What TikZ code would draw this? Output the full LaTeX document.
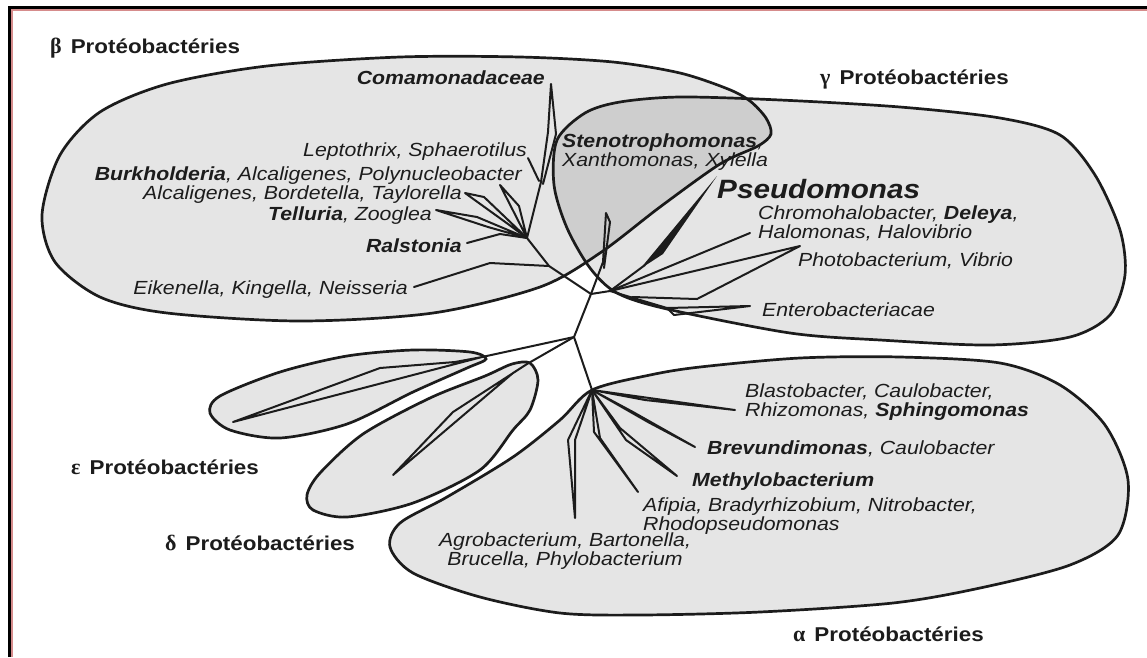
\documentclass[tikz,border=0pt]{standalone}
\usepackage{fontspec}
\setmainfont{Liberation Sans}
\newfontfamily\taxfont[FakeStretch=1.12]{Liberation Sans}
\newfontfamily\greekfont{Liberation Serif}
\usepackage{tikz}
\definecolor{inkline}{RGB}{28,28,28}
\definecolor{framepink}{RGB}{214,140,140}
\tikzset{
  clade/.style={draw=inkline,line width=2.7pt,fill=black,fill opacity=0.1},
  branch/.style={draw=inkline,line width=2pt,line join=round,line cap=round},
  taxon/.style={inner sep=0pt,text=inkline,
    font=\taxfont\fontsize{19}{19}\selectfont\itshape},
  bigtaxon/.style={taxon,font=\taxfont\fontsize{26.5}{28}\selectfont\bfseries\itshape},
  grouplabel/.style={inner sep=0pt,anchor=north west,text=inkline,
    font=\taxfont\fontsize{20}{22}\selectfont\bfseries},
}
\newcommand{\grk}[1]{{\greekfont\fontsize{22}{22}\selectfont #1}\hspace{0.45em}}

\begin{document}
\begin{tikzpicture}[x=1pt,y=-1pt]
        \useasboundingbox (0,0) rectangle (1147,657);
        \draw[line width=3pt] (9,657) -- (9,7) -- (1147,7);
        \draw[framepink,line width=2pt] (11.8,657) -- (11.8,9.8) -- (1147,9.8);

        \path[clade] plot[smooth cycle] coordinates {(766,118) (750,101) (728,89)
          (680,73) (613,62) (520,57) (400,57) (267,66) (167,84) (100,112) (60,155)
          (42,215) (55,262) (100,297) (167,313) (300,321) (433,313) (540,287)
          (600,253) (660,207) (720,164) (758,146) (771,134)};
        \path[clade] plot[smooth cycle] coordinates {(557,140) (585,113) (620,102)
          (680,97) (780,100) (900,107) (1000,118) (1060,135) (1095,175) (1120,230)
          (1125,275) (1110,315) (1070,337) (990,345) (880,340) (790,333) (667,309)
          (617,293) (590,268) (567,228) (554,185)};
        \path[clade] plot[smooth cycle] coordinates {(592,390) (650,375) (700,367)
          (800,358) (900,357) (1000,363) (1060,385) (1105,425) (1128,480) (1118,535)
          (1070,565) (980,588) (893,603) (760,612) (640,615) (560,613) (480,597)
          (413,573) (390,547) (400,523) (447,497) (513,457) (560,420)};
        \path[clade] plot[smooth cycle] coordinates {(486,359) (470,352) (413,350)
          (347,356) (280,372) (220,396) (210,413) (230,430) (280,438) (347,424)
          (413,392) (467,368)};
        \path[clade] plot[smooth cycle] coordinates {(530,363) (538,380) (530,410)
          (513,430) (480,470) (413,503) (347,517) (313,510) (307,495) (320,473)
          (363,434) (430,398) (485,376) (512,364)};

        \coordinate (C) at (527,238);
        \coordinate (E) at (549,266);
        \coordinate (B) at (591,294);
        \coordinate (D) at (610,291);
        \coordinate (A) at (574,337);
        \coordinate (F) at (592,390);
        \coordinate (Gd) at (527,364);
        \coordinate (Ge) at (482,357);

        \draw[branch] (C) -- (E) -- (B) -- (A) -- (F);
        \draw[branch] (B) -- (D);
        \draw[branch] (A) -- (Ge);
        \draw[branch] (A) -- (Gd);

        \draw[branch] (C) -- (541,182) -- (548,132) -- (551,84) -- (556,134) -- (543,184);
        \draw[branch] (528,158) -- (539,181);
        \draw[branch] (500,185) -- (519,206) -- (C) -- cycle;
        \draw[branch] (465,193) -- (484,197) -- (C) -- (508,224) -- cycle;
        \draw[branch] (436,210) -- (477,217) -- (C) -- (488,227) -- cycle;
        \draw[branch] (467,243) -- (500,234) -- (C);
        \draw[branch] (414,287) -- (490,263) -- (E);

        \draw[branch] (B) -- (603,262) -- (606,213) -- (610,222) -- (604,268);
        \draw[branch] (D) -- (645,265);
        \fill[inkline] (640,269) -- (663,254) -- (717,176) -- cycle;
        \draw[branch] (D) -- (750,233);
        \draw[branch] (D) -- (800,246) -- (697,299) -- (632,297);
        \draw[branch] (D) -- (667,308) -- (750,306) -- (674,315) -- (667,308);

        \draw[branch] (F) -- (645,400) -- (735,410) -- cycle;
        \draw[branch] (F) -- (633,412) -- (695,447) -- (648,422) -- cycle;
        \draw[branch] (F) -- (620,428) -- (677,476) -- (626,440) -- cycle;
        \draw[branch] (F) -- (594,432) -- (638,492) -- (600,438) -- cycle;
        \draw[branch] (F) -- (568,440) -- (575,518) -- (575,440) -- cycle;

        \draw[branch] (Ge) -- (455,362) -- (380,368) -- (233,422) -- cycle;
        \draw[branch] (Gd) -- (453,412) -- (393,475) -- (513,373) -- cycle;

        \node[taxon,anchor=north east] (coma) at (545,71) {\textbf{Comamonadaceae}};
        \node[taxon,anchor=north east] (lepto) at (527,143) {Leptothrix, Sphaerotilus};
        \node[taxon,anchor=north east] (burk) at (522,167)
          {\textbf{Burkholderia}, Alcaligenes, Polynucleobacter};
        \node[taxon,anchor=north east] (alca) at (462,186)
          {Alcaligenes, Bordetella, Taylorella};
        \node[taxon,anchor=north east] (tell) at (432,207) {\textbf{Telluria}, Zooglea};
        \node[taxon,anchor=north east] (rals) at (462,239) {\textbf{Ralstonia}};
        \node[taxon,anchor=north east] (eike) at (408,281)
          {Eikenella, Kingella, Neisseria};

        \node[taxon,anchor=north west,align=left] (steno) at (562,134)
          {\textbf{Stenotrophomonas},\\Xanthomonas, Xylella};
        \node[bigtaxon,anchor=north west] (pseudo) at (717,179) {Pseudomonas};
        \node[taxon,anchor=north west,align=left] (chromo) at (758,206)
          {Chromohalobacter, \textbf{Deleya},\\Halomonas, Halovibrio};
        \node[taxon,anchor=north west] (photo) at (798,253) {Photobacterium, Vibrio};
        \node[taxon,anchor=north west] (entero) at (762,303) {Enterobacteriacae};

        \node[taxon,anchor=north west,align=left] (blasto) at (745,384)
          {Blastobacter, Caulobacter,\\Rhizomonas, \textbf{Sphingomonas}};
        \node[taxon,anchor=north west] (brevu) at (707,441)
          {\textbf{Brevundimonas}, Caulobacter};
        \node[taxon,anchor=north west] (methylo) at (692,473) {\textbf{Methylobacterium}};
        \node[taxon,anchor=north west,align=left] (afipia) at (643,498)
          {Afipia, Bradyrhizobium, Nitrobacter,\\Rhodopseudomonas};
        \node[taxon,anchor=north,align=center] (agro) at (565,533)
          {Agrobacterium, Bartonella,\\Brucella, Phylobacterium};

        \node[grouplabel] (beta) at (50,38) {\grk{β}Protéobactéries};
        \node[grouplabel] (gamma) at (820,70) {\grk{γ}Protéobactéries};
        \node[grouplabel] (epsilon) at (71,460) {\grk{ε}Protéobactéries};
        \node[grouplabel] (delta) at (165,535) {\grk{δ}Protéobactéries};
        \node[grouplabel] (alpha) at (793,627) {\grk{α}Protéobactéries};
      \end{tikzpicture}
\end{document}
